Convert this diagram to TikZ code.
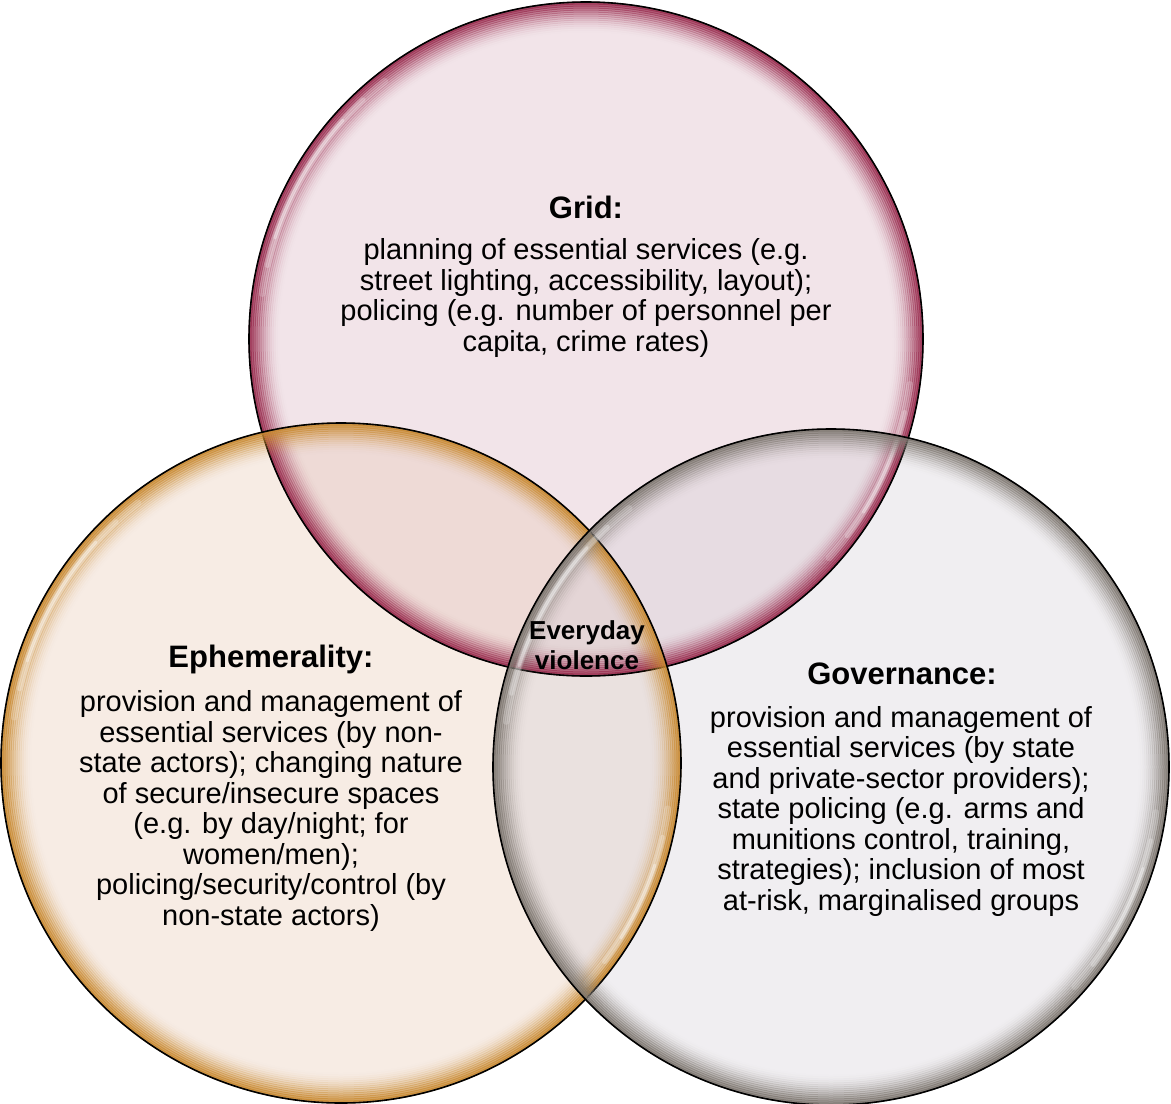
\documentclass[tikz,border=0pt]{standalone}
\usepackage{fontspec}
\setmainfont{Liberation Sans}
\definecolor{gridfill}{HTML}{D8B0BE}
\definecolor{gridrim}{HTML}{9A2E50}
\definecolor{ephfill}{HTML}{E8C8B0}
\definecolor{ephrim}{HTML}{C98A32}
\definecolor{govfill}{HTML}{D2CCD6}
\definecolor{govrim}{HTML}{7E7770}
\tikzset{
  bodytext/.style={align=center, text=black, inner sep=0pt, font=\fontsize{29}{30.5}\selectfont},
  titletext/.style={align=center, text=black, inner sep=0pt, font=\fontsize{31}{32}\selectfont\bfseries},
  centretext/.style={align=center, text=black, inner sep=0pt, font=\fontsize{26}{30}\selectfont\bfseries},
  gloss/.style={white, line cap=round},
}
\newcommand\vennfill[4]{%
  \fill[#4, fill opacity=0.33] (#1,#2) circle[radius=#3];}
\newcommand\vennrim[4]{%
  \foreach \i [evaluate=\i as \op using {0.85*(1-\i/15)^2}] in {0,...,14}{%
    \draw[#4, line width=3pt, draw opacity=\op] (#1,#2) circle[radius=#3-1-2*\i];}%
  \foreach \a/\b/\w/\o in {-128/-172/7/0.18, -133/-167/5/0.25, -138/-162/3/0.35,
                          42/8/7/0.18, 37/13/5/0.25, 32/18/3/0.35}{%
    \draw[gloss, line width=\w pt, draw opacity=\o] (#1,#2) ++(\a:#3-10) arc[start angle=\a, end angle=\b, radius=#3-10];}%
  \draw[black, line width=1.6pt] (#1,#2) circle[radius=#3];}
\begin{document}
\begin{tikzpicture}[x=1pt,y=-1pt]
\useasboundingbox (0,0) rectangle (1171,1104);
\fill[white] (0,0) rectangle (1171,1104);
\clip (0,0) rectangle (1171,1104);
% fills
\vennfill{586}{339}{337}{gridfill}
\vennfill{341}{763}{340}{ephfill}
\vennfill{831}{767}{338}{govfill}
% rims
\vennrim{586}{339}{337}{gridrim}
\vennrim{341}{763}{340}{ephrim}
\vennrim{831}{767}{338}{govrim}
% texts
\node[titletext] (gridt) at (586,207) {Grid:};
\node[bodytext] (gridb) at (586,298) {planning of essential services (e.g.\\street lighting, accessibility, layout);\\policing (e.g. number of personnel per\\capita, crime rates)};
\node[titletext] (epht) at (271,659) {Ephemerality:};
\node[bodytext] (ephb) at (271,811) {provision and management of\\essential services (by non-\\state actors); changing nature\\of secure/insecure spaces\\(e.g. by day/night; for\\women/men);\\policing/security/control (by\\non-state actors)};
\node[titletext] (govt) at (902,674) {Governance:};
\node[bodytext] (govb) at (901,811) {provision and management of\\essential services (by state\\and private-sector providers);\\state policing (e.g. arms and\\munitions control, training,\\strategies); inclusion of most\\at-risk, marginalised groups};
\node[centretext] (everyday) at (587,645) {Everyday\\violence};
\end{tikzpicture}
\end{document}
